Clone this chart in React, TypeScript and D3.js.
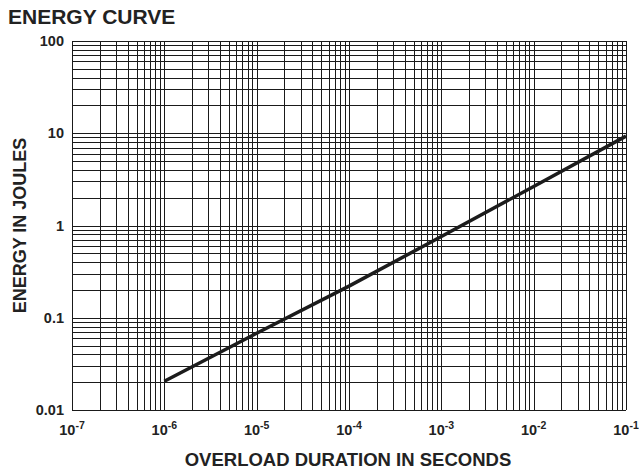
import React from "react";
import * as d3 from "d3";

// duration (s) vs energy (J)
const durations = [1e-6, 1e-5, 1e-4, 1e-3, 1e-2, 1e-1];
const energies = [0.0205, 0.068, 0.22, 0.76, 2.65, 9.3];

const xExponents = [-7, -6, -5, -4, -3, -2, -1];
const yTickLabels = ["0.01", "0.1", "1", "10", "100"];
const yTickValues = [0.01, 0.1, 1, 10, 100];

const W = 639;
const H = 471;
const margin = { left: 72, right: 13, top: 41, bottom: 61 };

export default function App() {
  const ref = React.useRef<SVGSVGElement>(null);

  React.useEffect(() => {
    const svg = d3.select(ref.current);
    svg.selectAll("*").remove();

    const x = d3
      .scaleLog()
      .domain([1e-7, 1e-1])
      .range([margin.left, W - margin.right]);
    const y = d3
      .scaleLog()
      .domain([0.01, 100])
      .range([H - margin.bottom, margin.top]);

    const font = "'Liberation Sans', Arial, Helvetica, sans-serif";

    // grid
    const grid = svg.append("g").attr("stroke", "#1a1a1a").attr("stroke-width", 1);
    const xLines: number[] = [];
    for (let e = -7; e < -1; e++) {
      for (let m = 1; m < 10; m++) xLines.push(m * Math.pow(10, e));
    }
    xLines.push(1e-1);
    const yLines: number[] = [];
    for (let e = -2; e < 2; e++) {
      for (let m = 1; m < 10; m++) yLines.push(m * Math.pow(10, e));
    }
    yLines.push(100);

    grid
      .selectAll("line.v")
      .data(xLines)
      .enter()
      .append("line")
      .attr("x1", (d) => Math.round(x(d)) + 0.5)
      .attr("x2", (d) => Math.round(x(d)) + 0.5)
      .attr("y1", y(100))
      .attr("y2", y(0.01));
    grid
      .selectAll("line.h")
      .data(yLines)
      .enter()
      .append("line")
      .attr("y1", (d) => Math.round(y(d)) + 0.5)
      .attr("y2", (d) => Math.round(y(d)) + 0.5)
      .attr("x1", x(1e-7))
      .attr("x2", x(1e-1));

    // curve
    const line = d3
      .line<number>()
      .x((d, i) => x(durations[i]))
      .y((d) => y(d));
    svg
      .append("path")
      .attr("d", line(energies))
      .attr("fill", "none")
      .attr("stroke", "#1c1c1c")
      .attr("stroke-width", 3.5);

    // y tick labels
    svg
      .selectAll("text.yt")
      .data(yTickValues)
      .enter()
      .append("text")
      .attr("x", margin.left - 8)
      .attr("y", (d) => y(d) + 5)
      .attr("text-anchor", "end")
      .attr("font-family", font)
      .attr("font-weight", "bold")
      .attr("font-size", 14.5)
      .attr("fill", "#222")
      .text((d, i) => yTickLabels[i]);

    // x tick labels 10^n
    const xt = svg
      .selectAll("text.xt")
      .data(xExponents)
      .enter()
      .append("text")
      .attr("x", (d) => x(Math.pow(10, d)))
      .attr("y", H - margin.bottom + 25)
      .attr("text-anchor", "middle")
      .attr("font-family", font)
      .attr("font-weight", "bold")
      .attr("font-size", 14.5)
      .attr("fill", "#222");
    xt.append("tspan").text("10");
    xt.append("tspan")
      .attr("dy", -6)
      .attr("font-size", 10.5)
      .text((d) => String(d));

    // title + axis labels
    svg
      .append("text")
      .attr("x", 8)
      .attr("y", 24)
      .attr("font-family", font)
      .attr("font-weight", "bold")
      .attr("font-size", 21)
      .attr("fill", "#222")
      .text("ENERGY CURVE");

    svg
      .append("text")
      .attr("x", 348)
      .attr("y", 466)
      .attr("text-anchor", "middle")
      .attr("font-family", font)
      .attr("font-weight", "bold")
      .attr("font-size", 18.5)
      .attr("fill", "#222")
      .text("OVERLOAD DURATION IN SECONDS");

    svg
      .append("text")
      .attr("transform", `translate(26,${(margin.top + H - margin.bottom) / 2}) rotate(-90)`)
      .attr("text-anchor", "middle")
      .attr("font-family", font)
      .attr("font-weight", "bold")
      .attr("font-size", 18)
      .attr("fill", "#222")
      .text("ENERGY IN JOULES");
  });

  return (
    <svg
      ref={ref}
      width={W}
      height={H}
      style={{ position: "absolute", left: 0, top: 0, background: "#fff" }}
    />
  );
}
